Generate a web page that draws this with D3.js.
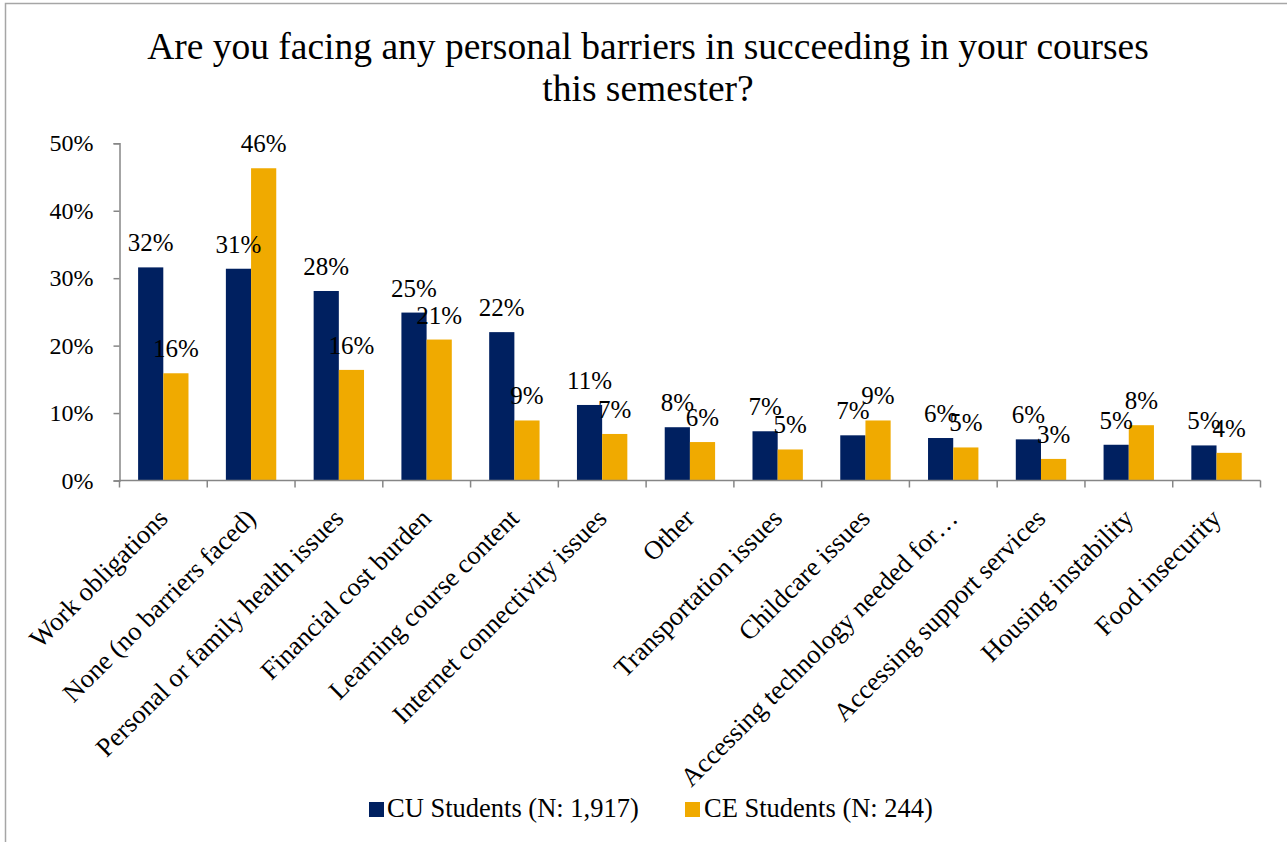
<!DOCTYPE html>
<html>
<head>
<meta charset="utf-8">
<script src="https://cdn.jsdelivr.net/npm/d3@7"></script>
<style>
  html, body { margin: 0; padding: 0; background: #fff; }
  svg { display: block; font-family: "Liberation Serif", "Times New Roman", serif; }
</style>
</head>
<body>
<svg id="chart" width="1287" height="842"></svg>
<script>
// Survey categories, in the order they are plotted
const categories = [
  "Work obligations",
  "None (no barriers faced)",
  "Personal or family health issues",
  "Financial cost burden",
  "Learning course content",
  "Internet connectivity issues",
  "Other",
  "Transportation issues",
  "Childcare issues",
  "Accessing technology needed for\u2026",
  "Accessing support services",
  "Housing instability",
  "Food insecurity"
];

// Share of respondents per group
const cuValues = [0.316, 0.314, 0.281, 0.249, 0.220, 0.112, 0.079, 0.073, 0.067, 0.063, 0.061, 0.053, 0.052];
const ceValues = [0.159, 0.463, 0.164, 0.209, 0.089, 0.069, 0.057, 0.046, 0.089, 0.049, 0.032, 0.082, 0.041];

const seriesNames = ["CU Students (N: 1,917)", "CE Students (N: 244)"];
const seriesColors = ["#002060", "#F0AA00"];
const yTicks = [0, 0.1, 0.2, 0.3, 0.4, 0.5];

const titleLines = [
  "Are you facing any personal barriers in succeeding in your courses",
  "this semester?"
];

const fontStack = "\"Liberation Serif\", \"Times New Roman\", serif";
const svg = d3.select("#chart");
const axisColor = "#868686";

// outer chart frame
svg.append("rect")
  .attr("x", 5.5).attr("y", 3.5)
  .attr("width", 1400).attr("height", 1000)
  .attr("fill", "none").attr("stroke", "#a6a6a6").attr("stroke-width", 1.5);

// title
svg.append("text")
  .attr("text-anchor", "middle")
  .attr("font-size", 37.5)
  .attr("fill", "#000")
  .selectAll("tspan").data(titleLines).join("tspan")
  .attr("x", 648)
  .attr("y", (d, i) => 59 + i * 42)
  .text(d => d);

const plot = { left: 119.5, right: 1260.5, top: 143.3, bottom: 480.5 };

const x0 = d3.scaleBand().domain(categories).range([plot.left, plot.right]).padding(0);
const x1 = d3.scaleBand().domain([0, 1])
  .range([x0.bandwidth() * 0.212, x0.bandwidth() * 0.786]);
const y = d3.scaleLinear().domain([0, 0.5]).range([plot.bottom, plot.top]);
const pct = d3.format(".0%");

const rows = categories.map((c, i) => ({ cat: c, vals: [cuValues[i], ceValues[i]] }));

// bars
const groups = svg.append("g").selectAll("g").data(rows).join("g")
  .attr("transform", d => `translate(${x0(d.cat)},0)`);

groups.selectAll("rect").data(d => d.vals.map((v, k) => ({ v, k }))).join("rect")
  .attr("x", d => x1(d.k))
  .attr("width", x1.bandwidth())
  .attr("y", d => y(d.v))
  .attr("height", d => y(0) - y(d.v))
  .attr("fill", d => seriesColors[d.k]);

// y axis
const yAxis = d3.axisLeft(y).tickValues(yTicks).tickFormat(pct).tickSize(6).tickPadding(20);
const gy = svg.append("g").attr("transform", `translate(${plot.left},0)`).call(yAxis)
  .attr("font-family", fontStack);
gy.select(".domain").attr("stroke", axisColor).attr("stroke-width", 1.5);
gy.selectAll(".tick line").attr("stroke", axisColor).attr("stroke-width", 1.5);
gy.selectAll(".tick text").attr("font-size", 24).attr("fill", "#000");

// x axis: line plus ticks at category boundaries
const gx = svg.append("g");
gx.append("line")
  .attr("x1", plot.left).attr("x2", plot.right)
  .attr("y1", plot.bottom).attr("y2", plot.bottom)
  .attr("stroke", axisColor).attr("stroke-width", 1.5);
const boundaries = categories.map(c => x0(c)).concat([x0.range()[1]]);
gx.selectAll("line.tk").data(boundaries).join("line")
  .attr("class", "tk")
  .attr("x1", d => d).attr("x2", d => d)
  .attr("y1", plot.bottom).attr("y2", plot.bottom + 7)
  .attr("stroke", axisColor).attr("stroke-width", 1.5);

// rotated category labels
gx.selectAll("text").data(categories).join("text")
  .attr("transform", c => `translate(${x0(c) + x0.bandwidth() / 2 + 6},520) rotate(-45)`)
  .attr("text-anchor", "end")
  .attr("font-size", 26.5)
  .attr("fill", "#000")
  .text(c => c);

// value labels above each bar
groups.selectAll("text").data(d => d.vals.map((v, k) => ({ v, k }))).join("text")
  .attr("x", d => x1(d.k) + x1.bandwidth() / 2)
  .attr("y", d => y(d.v) - 16)
  .attr("text-anchor", "middle")
  .attr("font-size", 25)
  .attr("fill", "#000")
  .text(d => pct(d.v));

// legend
const legendItems = [
  { name: seriesNames[0], color: seriesColors[0], sx: 369, tx: 387 },
  { name: seriesNames[1], color: seriesColors[1], sx: 685, tx: 704 }
];
const lg = svg.append("g").selectAll("g").data(legendItems).join("g");
lg.append("rect")
  .attr("x", d => d.sx).attr("y", 802)
  .attr("width", 15).attr("height", 15)
  .attr("fill", d => d.color);
lg.append("text")
  .attr("x", d => d.tx).attr("y", 817)
  .attr("font-size", 26.5)
  .attr("fill", "#000")
  .text(d => d.name);
</script>
</body>
</html>
